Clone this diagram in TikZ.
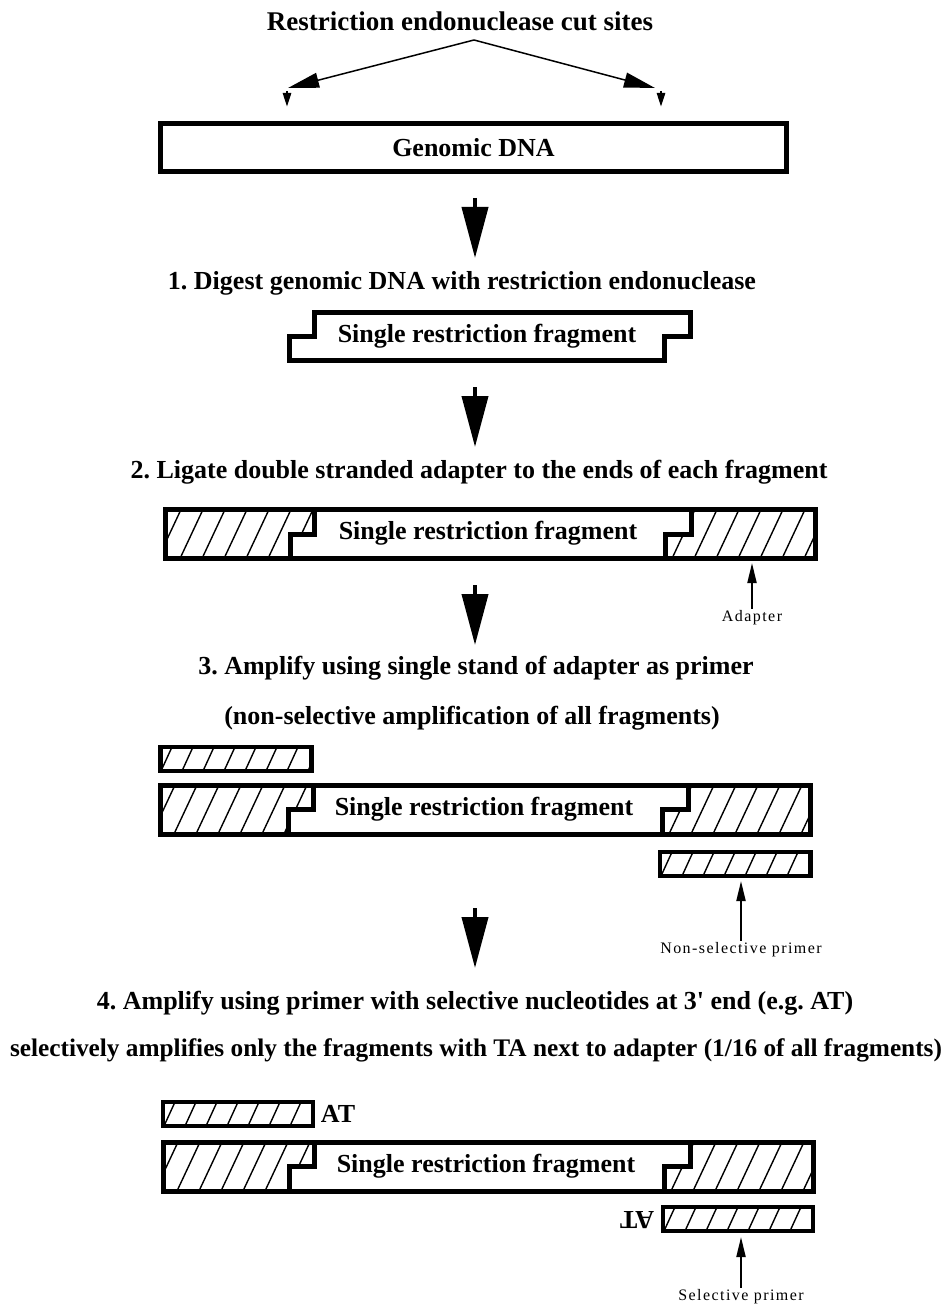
\documentclass[tikz,border=0pt]{standalone}
\usepackage{fontspec}
\setmainfont{Liberation Serif}
\newfontfamily\lblfont[LetterSpace=9]{Liberation Serif}
\usetikzlibrary{arrows.meta, positioning}
\tikzstyle{heading}   = [font=\bfseries\fontsize{26}{30}\selectfont, inner sep=0pt]
\tikzstyle{smalllbl}  = [font=\lblfont\fontsize{16}{18}\selectfont, inner sep=2pt]
\tikzstyle{strand}    = [line width=5pt, line join=miter]
\tikzstyle{primerbox} = [line width=4.5pt, line join=miter]
\tikzstyle{hatch}     = [line width=1.4pt]
\tikzstyle{bigarrow}  = [line width=4pt, -{Triangle[length=51pt,width=26pt]}]
\tikzstyle{cutarrow}  = [line width=1.5pt, -{Triangle[length=31pt,width=15pt]}]
\tikzstyle{cutmark}   = [line width=2.5pt, -{Triangle[length=14pt,width=8pt]}]
\tikzstyle{ptrarrow}  = [line width=2pt, -{Triangle[length=20pt,width=9pt]}]
\frenchspacing
\begin{document}
\begin{tikzpicture}[x=1pt, y=-1pt]
  \useasboundingbox (0,0) rectangle (948,1305);

  % --- Cut sites ---
  \node (title) [heading, font=\bfseries\fontsize{27}{30}\selectfont] at (460,21) {Restriction endonuclease cut sites};
  \coordinate (apex)    at (474,40);
  \coordinate (cutL_in) at (288,88);
  \coordinate (cutR_in) at (655,88);
  \coordinate (cutL_s)  at (287,91);
  \coordinate (cutL_e)  at (287,107);
  \coordinate (cutR_s)  at (661,91);
  \coordinate (cutR_e)  at (661,107);
  \draw[cutarrow] (apex) -- (cutL_in);
  \draw[cutarrow] (apex) -- (cutR_in);
  \draw[cutmark]  (cutL_s) -- (cutL_e);
  \draw[cutmark]  (cutR_s) -- (cutR_e);

  \node (genomic) [strand, draw, minimum width=626pt, minimum height=48pt,
                   font=\bfseries\fontsize{26}{30}\selectfont] at (473.5,147.5) {Genomic DNA};

  % --- Step 1 ---
  \coordinate (a1_s) at (475,198);
  \coordinate (a1_e) at (475,258);
  \draw[bigarrow] (a1_s) -- (a1_e);
  \node (step1_lbl) [heading] at (462,283) {1. Digest genomic DNA with restriction endonuclease};
  \draw[strand] (314.5,312.5) -- (690,312.5) -- (690,336) -- (664.5,336) -- (664.5,360.5)
                -- (289.5,360.5) -- (289.5,336) -- (314.5,336) -- cycle;
  \node (frag1_txt) [heading] at (487,336) {Single restriction fragment};

  % --- Step 2 ---
  \coordinate (a2_s) at (475,387);
  \coordinate (a2_e) at (475,447);
  \draw[bigarrow] (a2_s) -- (a2_e);
  \node (step2_lbl) [heading] at (479,472) {2. Ligate double stranded adapter to the ends of each fragment};
  \begin{scope}
    \clip (165.5,509.5) -- (314,509.5) -- (314,534) -- (290,534) -- (290,558.5) -- (165.5,558.5) -- cycle;
    \foreach \hx in {136,158,...,330} \draw[hatch] (\hx,558.5) -- ++(23,-49);
  \end{scope}
  \begin{scope}
    \clip (691,509.5) -- (815,509.5) -- (815,558.5) -- (665,558.5) -- (665,534) -- (691,534) -- cycle;
    \foreach \hx in {650,672,...,830} \draw[hatch] (\hx,558.5) -- ++(23,-49);
  \end{scope}
  \draw[strand] (165.5,509.5) rectangle (815,558.5);
  \draw[strand] (314,509.5) -- (314,534) -- (290,534) -- (290,558.5);
  \draw[strand] (691,509.5) -- (691,534) -- (665,534) -- (665,558.5);
  \node (frag2_txt) [heading] at (488,533) {Single restriction fragment};
  \node (adpt_lbl) [smalllbl] at (752,618) {Adapter};
  \coordinate (adpt_tip) at (752,563);
  \draw[ptrarrow] (adpt_lbl) -- (adpt_tip);

  % --- Step 3 ---
  \coordinate (a3_s) at (475,585);
  \coordinate (a3_e) at (475,645);
  \draw[bigarrow] (a3_s) -- (a3_e);
  \node (step3_lbl) [heading] at (476,668) {3. Amplify using single stand of adapter as primer};
  \node (step3_sub) [heading] at (472,718) {(non-selective amplification of all fragments)};
  \begin{scope}
    \clip (160.5,747) rectangle (311.5,771);
    \foreach \hx in {140,161,...,320} \draw[hatch] (\hx,771) -- ++(11,-24);
  \end{scope}
  \draw[primerbox] (160.5,747) rectangle (311.5,771);
  \begin{scope}
    \clip (160.5,785) -- (313,785) -- (313,809.5) -- (288,809.5) -- (288,834) -- (160.5,834) -- cycle;
    \foreach \hx in {130,152,...,330} \draw[hatch] (\hx,834) -- ++(23,-49);
  \end{scope}
  \begin{scope}
    \clip (688,785) -- (810.5,785) -- (810.5,834) -- (662,834) -- (662,809.5) -- (688,809.5) -- cycle;
    \foreach \hx in {647,669,...,830} \draw[hatch] (\hx,834) -- ++(23,-49);
  \end{scope}
  \draw[strand] (160.5,785) rectangle (810.5,834);
  \draw[strand] (313,785) -- (313,809.5) -- (288,809.5) -- (288,834);
  \draw[strand] (688,785) -- (688,809.5) -- (662,809.5) -- (662,834);
  \node (frag3_txt) [heading] at (484,809) {Single restriction fragment};
  \begin{scope}
    \clip (660,852) rectangle (810.5,876);
    \foreach \hx in {640,661,...,820} \draw[hatch] (\hx,876) -- ++(11,-24);
  \end{scope}
  \draw[primerbox] (660,852) rectangle (810.5,876);
  \node (nsel_lbl) [smalllbl] at (741,950) {Non-selective primer};
  \coordinate (nsel_tip) at (741,881);
  \draw[ptrarrow] (nsel_lbl) -- (nsel_tip);

  % --- Step 4 ---
  \coordinate (a4_s) at (475,908);
  \coordinate (a4_e) at (475,968);
  \draw[bigarrow] (a4_s) -- (a4_e);
  \node (step4_lbl) [heading] at (475,1003)
        {4. Amplify using primer with selective nucleotides at 3\XeTeXglyph\XeTeXglyphindex "quotesingle"\relax{} end (e.g. AT)};
  \node (step4_sub) [heading, font=\bfseries\fontsize{25.3}{30}\selectfont] at (476,1050)
        {selectively amplifies only the fragments with TA next to adapter (1/16 of all fragments)};
  \begin{scope}
    \clip (163,1102) rectangle (313,1126);
    \foreach \hx in {143,164,...,320} \draw[hatch] (\hx,1126) -- ++(11,-24);
  \end{scope}
  \draw[primerbox] (163,1102) rectangle (313,1126);
  \node (at_top) [heading] at (338,1114) {AT};
  \begin{scope}
    \clip (163,1142) -- (314,1142) -- (314,1166.5) -- (289,1166.5) -- (289,1191) -- (163,1191) -- cycle;
    \foreach \hx in {133,155,...,330} \draw[hatch] (\hx,1191) -- ++(23,-49);
  \end{scope}
  \begin{scope}
    \clip (690,1142) -- (813,1142) -- (813,1191) -- (664,1191) -- (664,1166.5) -- (690,1166.5) -- cycle;
    \foreach \hx in {649,671,...,830} \draw[hatch] (\hx,1191) -- ++(23,-49);
  \end{scope}
  \draw[strand] (163,1142) rectangle (813,1191);
  \draw[strand] (314,1142) -- (314,1166.5) -- (289,1166.5) -- (289,1191);
  \draw[strand] (690,1142) -- (690,1166.5) -- (664,1166.5) -- (664,1191);
  \node (frag4_txt) [heading] at (486,1166) {Single restriction fragment};
  \begin{scope}
    \clip (663,1207) rectangle (813,1231);
    \foreach \hx in {643,664,...,830} \draw[hatch] (\hx,1231) -- ++(11,-24);
  \end{scope}
  \draw[primerbox] (663,1207) rectangle (813,1231);
  \node (at_bot) [heading, rotate=180] at (637,1220) {AT};
  \node (sel_lbl) [smalllbl] at (741,1297) {Selective primer};
  \coordinate (sel_tip) at (741,1237);
  \draw[ptrarrow] (sel_lbl) -- (sel_tip);

\end{tikzpicture}
\end{document}
